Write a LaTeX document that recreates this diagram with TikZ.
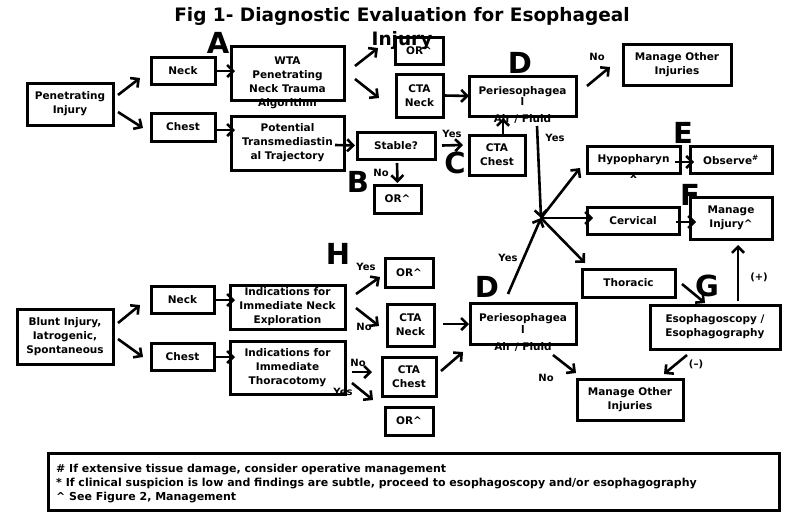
\documentclass[tikz,border=0pt]{standalone}
\usepackage{fontspec}
\setmainfont{DejaVu Sans}
\usetikzlibrary{positioning}
\usetikzlibrary{arrows.meta}

\tikzset{
	blk/.style={draw, line width=3pt, inner sep=0pt, outer sep=0pt, align=center, font=\fontsize{10.5}{14}\selectfont\bfseries},
	txt/.style={inner sep=0pt, align=center, font=\fontsize{10.5}{14}\selectfont\bfseries},
	lbl/.style={inner sep=0pt, font=\fontsize{10}{12}\selectfont\bfseries},
	bigl/.style={inner sep=0pt, font=\fontsize{29}{30}\selectfont\bfseries},
	arr/.style={line width=2.6pt, -{Straight Barb[length=6pt,width=12pt]}},
}

\begin{document}
\begin{tikzpicture}[x=1pt,y=-1pt]
	%frame
	\useasboundingbox (0,0) rectangle (789,512);
	% Title
	\node[inner sep=0pt, align=center, font=\fontsize{18.5}{24}\selectfont\bfseries] (title) at (402,28) {Fig 1- Diagnostic Evaluation for Esophageal\\Injury};
	% Penetrating branch
	\node[blk, minimum width=86pt, minimum height=42pt] (pen) at (70,104) {Penetrating\\Injury};
	\node[blk, minimum width=64pt, minimum height=27pt] (neckA) at (183,70.5) {Neck};
	\node[blk, minimum width=64pt, minimum height=28pt] (chestA) at (183,127) {Chest};
	\node[blk, minimum width=113pt, minimum height=54pt, label={[txt,anchor=center,yshift=-9.5pt]center:{WTA\\Penetrating\\Neck Trauma\\Algorithm}}] (wta) at (287.5,73) {};
	\node[blk, minimum width=113pt, minimum height=54pt] (pot) at (287.5,143) {Potential\\Transmediastin\\al Trajectory};
	\node[blk, minimum width=78pt, minimum height=27pt] (stable) at (396,145.5) {Stable?};
	\node[blk, minimum width=47pt, minimum height=28pt] (orB) at (397.5,199) {OR\textasciicircum};
	\node[blk, minimum width=48pt, minimum height=27pt] (orA) at (419,50.5) {OR\textasciicircum};
	\node[blk, minimum width=47pt, minimum height=43pt] (ctaNA) at (419.5,95.5) {CTA\\Neck};
	\node[blk, minimum width=56pt, minimum height=40pt] (ctaCA) at (497,155) {CTA\\Chest};
	\node[blk, minimum width=107pt, minimum height=40pt, label={[txt,anchor=center,yshift=-3pt]south:Air / Fluid}] (perA) at (522.5,96) {Periesophagea\\[-3pt]l};
	\node[blk, minimum width=108pt, minimum height=41pt] (manA) at (677,64.5) {Manage Other\\Injuries};
	% Injury level
	\coordinate (hub) at (541,218);
	\node[blk, minimum width=93pt, minimum height=27pt, label={[txt,anchor=center,yshift=-3pt]south:x}] (hyp) at (633.5,159.5) {Hypopharyn};
	\node[blk, minimum width=82pt, minimum height=27pt] (obs) at (731,159.5) {Observe\textsuperscript{\#}};
	\node[blk, minimum width=92pt, minimum height=27pt] (cerv) at (633,220.5) {Cervical};
	\node[blk, minimum width=82pt, minimum height=42pt] (mani) at (731,218) {Manage\\Injury\textasciicircum};
	\node[blk, minimum width=93pt, minimum height=28pt] (thor) at (628.5,283) {Thoracic};
	\node[blk, minimum width=130pt, minimum height=44pt] (eso) at (715,327) {Esophagoscopy /\\Esophagography};
	\node[blk, minimum width=106pt, minimum height=41pt] (manB) at (630,399.5) {Manage Other\\Injuries};
	% Blunt branch
	\node[blk, minimum width=96pt, minimum height=55pt] (blunt) at (65,336.5) {Blunt Injury,\\Iatrogenic,\\Spontaneous};
	\node[blk, minimum width=63pt, minimum height=27pt] (neckB) at (182.5,299.5) {Neck};
	\node[blk, minimum width=63pt, minimum height=27pt] (chestB) at (182.5,356.5) {Chest};
	\node[blk, minimum width=115pt, minimum height=44pt] (indN) at (287.5,307) {Indications for\\Immediate Neck\\Exploration};
	\node[blk, minimum width=115pt, minimum height=53pt] (indT) at (287.5,367.5) {Indications for\\Immediate\\Thoracotomy};
	\node[blk, minimum width=48pt, minimum height=29pt] (orH1) at (409,272.5) {OR\textasciicircum};
	\node[blk, minimum width=47pt, minimum height=42pt] (ctaNB) at (410.5,325) {CTA\\Neck};
	\node[blk, minimum width=54pt, minimum height=39pt] (ctaCB) at (409,376.5) {CTA\\Chest};
	\node[blk, minimum width=48pt, minimum height=28pt] (orH2) at (409,421) {OR\textasciicircum};
	\node[blk, minimum width=106pt, minimum height=41pt, label={[txt,anchor=center,yshift=-3pt]south:Air / Fluid}] (perB) at (523,323.5) {Periesophagea\\[-2pt]l};
	% Footnotes
	\node[blk, minimum width=731pt, minimum height=57pt, label={[txt,align=left,anchor=west,xshift=8pt,yshift=-1.5pt,font=\fontsize{11}{14}\selectfont\bfseries]west:{\# If extensive tissue damage, consider operative management\\* If clinical suspicion is low and findings are subtle, proceed to esophagoscopy and/or esophagography\\\textasciicircum{} See Figure 2, Management}}] (foot) at (413.5,482) {};
	% Letters
	\node[bigl] (lA) at (218,43) {A};
	\node[bigl] (lB) at (358,182) {B};
	\node[bigl] (lC) at (455,163) {C};
	\node[bigl] (lD1) at (520,63) {D};
	\node[bigl] (lE) at (683,133) {E};
	\node[bigl] (lF) at (690,195) {F};
	\node[bigl] (lG) at (707,286) {G};
	\node[bigl] (lD2) at (487,287) {D};
	\node[bigl] (lH) at (338,254) {H};
	% Arrows, penetrating
	\draw[arr] ([shift={(5,-9)}]pen.east) -- ([shift={(-11,7.5)}]neckA.west);
	\draw[arr] ([shift={(5,8)}]pen.east) -- ([shift={(-8,1)}]chestA.west);
	\draw[arr] ([shift={(0,0.5)}]neckA.east) -- ([shift={(4,-2)}]wta.west);
	\draw[arr] ([shift={(0,3)}]chestA.east) -- ([shift={(4,-13)}]pot.west);
	\draw[arr] ([shift={(-9,2)}]pot.east) -- ([shift={(-2,0)}]stable.west);
	\draw[arr] ([shift={(11,-7)}]wta.east) -- ([shift={(-17,-2.5)}]orA.west);
	\draw[arr] ([shift={(11,6)}]wta.east) -- ([shift={(-17,2.5)}]ctaNA.west);
	\draw[arr] ([shift={(1,4)}]stable.south) -- ([shift={(0,-2)}]orB.north);
	\draw[arr] ([shift={(7,0)}]stable.east) -- ([shift={(-6,-10)}]ctaCA.west);
	\draw[arr] ([shift={(1,0)}]ctaNA.east) -- (perA.west);
	\draw[arr] ([shift={(6,0)}]ctaCA.north) -- ([shift={(-19.5,2)}]perA.south);
	\draw[arr] ([shift={(11,-10)}]perA.east) -- ([shift={(-13,2.5)}]manA.west);
	\draw[arr] ([shift={(14.5,10)}]perA.south) -- (hub);
	\node[lbl] (nA1) at (452,134) {Yes};
	\node[lbl] (nA2) at (381,173) {No};
	\node[lbl] (nA3) at (597,57) {No};
	\node[lbl] (nA4) at (555,138) {Yes};
	% Arrows, injury level
	\draw[arr] (hub) -- ([shift={(-7,-5)}]hyp.south west);
	\draw[arr] (hub) -- ([shift={(6,-2.5)}]cerv.west);
	\draw[arr] (hub) -- ([shift={(3,-6)}]thor.north west);
	\draw[arr] ([shift={(-5,2.5)}]hyp.east) -- ([shift={(4,2.5)}]obs.west);
	\draw[arr] ([shift={(-3,1.5)}]cerv.east) -- ([shift={(6,4)}]mani.west);
	\draw[arr] ([shift={(7,1)}]thor.east) -- ([shift={(-10,-2)}]eso.north);
	\draw[arr] ([shift={(23,-4)}]eso.north) -- ([shift={(7,6)}]mani.south);
	\draw[arr] ([shift={(-28,6)}]eso.south) -- ([shift={(34,-5)}]manB.north);
	\node[lbl] (nI1) at (759,277) {(+)};
	\node[lbl] (nI2) at (696,364) {(--)};
	% Arrows, blunt
	\draw[arr] ([shift={(5,-13.5)}]blunt.east) -- ([shift={(-11,5.5)}]neckB.west);
	\draw[arr] ([shift={(5,2.5)}]blunt.east) -- ([shift={(-8,0.5)}]chestB.west);
	\draw[arr] ([shift={(-1,0.5)}]neckB.east) -- ([shift={(5,-7)}]indN.west);
	\draw[arr] ([shift={(-1,0.5)}]chestB.east) -- ([shift={(5,-10.5)}]indT.west);
	\draw[arr] ([shift={(11,-13)}]indN.east) -- ([shift={(-5,4.5)}]orH1.west);
	\draw[arr] ([shift={(11,1)}]indN.east) -- ([shift={(-8,1)}]ctaNB.west);
	\draw[arr] ([shift={(7,4.5)}]indT.east) -- ([shift={(-10,-4.5)}]ctaCB.west);
	\draw[arr] ([shift={(7,15.5)}]indT.east) -- ([shift={(-12,-21)}]orH2.west);
	\draw[arr] ([shift={(9,-1)}]ctaNB.east) -- ([shift={(-1,0.5)}]perB.west);
	\draw[arr] ([shift={(5,-5.5)}]ctaCB.east) -- ([shift={(-7,8)}]perB.south west);
	\draw[arr] ([shift={(-15,-9)}]perB.north) -- (hub);
	\draw[arr] ([shift={(30,11)}]perB.south) -- ([shift={(-1,-6)}]manB.north west);
	\node[lbl] (nB1) at (366,267) {Yes};
	\node[lbl] (nB2) at (364,327) {No};
	\node[lbl] (nB3) at (358,363) {No};
	\node[lbl] (nB4) at (343,392) {Yes};
	\node[lbl] (nB5) at (508,258) {Yes};
	\node[lbl] (nB6) at (546,378) {No};
\end{tikzpicture}
\end{document}
